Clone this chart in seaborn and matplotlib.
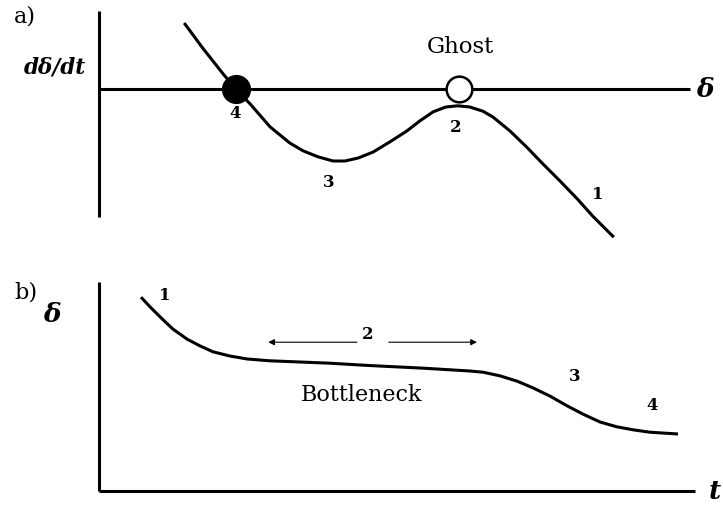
import matplotlib
matplotlib.use("Agg")
import matplotlib.pyplot as plt
import seaborn as sns
import pandas as pd

sns.set_theme(style="white")
plt.rcParams["font.family"] = ["DejaVu Serif"]
plt.rcParams["text.color"] = "black"

# Panel a: phase portrait, rate of change versus delta
phase_delta = [1.42, 1.73, 2.07, 2.28, 2.52, 2.85, 3.18, 3.40, 3.65, 3.90, 4.10, 4.32,
               4.57, 4.85, 5.13, 5.35, 5.57, 5.78, 5.98, 6.18, 6.40, 6.57, 6.85, 7.13,
               7.40, 7.68, 7.97, 8.23, 8.58]
phase_rate = [1.10, 0.68, 0.25, 0.00, -0.25, -0.63, -0.90, -1.03, -1.13, -1.20, -1.20, -1.15,
              -1.05, -0.88, -0.70, -0.53, -0.38, -0.30, -0.28, -0.30, -0.37, -0.47, -0.70, -0.97,
              -1.25, -1.53, -1.83, -2.12, -2.47]
stable_point = (2.28, 0.0)
ghost_point = (6.0, 0.0)
phase_labels = ["4", "3", "2", "1"]
phase_label_pos = [(2.27, -0.40), (3.83, -1.55), (5.95, -0.63), (8.32, -1.75)]

# Panel b: time course of delta
time = [0.70, 0.85, 1.02, 1.23, 1.47, 1.68, 1.90, 2.18, 2.47, 2.85, 3.35, 3.85, 4.35,
        4.73, 5.35, 5.85, 6.18, 6.40, 6.68, 6.97, 7.23, 7.52, 7.80, 8.07, 8.35, 8.63,
        8.90, 9.18, 9.65]
delta = [3.23, 3.07, 2.90, 2.70, 2.53, 2.42, 2.32, 2.25, 2.20, 2.17, 2.15, 2.13, 2.10,
         2.08, 2.05, 2.02, 2.00, 1.98, 1.92, 1.83, 1.72, 1.58, 1.42, 1.28, 1.15, 1.07,
         1.02, 0.98, 0.95]
time_labels = ["1", "2", "3", "4"]
time_label_pos = [(1.10, 3.27), (4.47, 2.62), (7.93, 1.93), (9.22, 1.45)]

W, H = 723, 506
fig = plt.figure(figsize=(W / 100, H / 100), dpi=100)
fig.patch.set_facecolor("white")

LW = 2.2
INK = "black"
num_font = dict(fontsize=12, fontweight="bold", ha="center", va="center", color=INK)
sym_font = dict(fontweight="bold", fontstyle="italic", ha="center", va="center", color=INK)
line_kw = dict(color=INK, linewidth=LW, solid_capstyle="butt", solid_joinstyle="round")

# ---------- panel a ----------
ax_a = fig.add_axes([99 / W, (H - 250) / H, (W - 99) / W, 250 / H])
ax_a.set_xlim(0, (W - 99) / 60)
ax_a.set_ylim((90 - 250) / 60, 90 / 60)
phase_df = pd.DataFrame({"delta": phase_delta, "rate": phase_rate})
sns.lineplot(data=phase_df, x="delta", y="rate", sort=False, ax=ax_a, **line_kw)
ax_a.plot(*stable_point, marker="o", markersize=20, color=INK, zorder=5)
ax_a.plot(*ghost_point, marker="o", markersize=18.5, markerfacecolor="white",
          markeredgecolor=INK, markeredgewidth=1.8, zorder=5)
for lab, (x, y) in zip(phase_labels, phase_label_pos):
    ax_a.text(x, y, lab, **num_font)
ax_a.text(6.03, 0.72, "Ghost", fontsize=16.5, ha="center", va="center", color=INK)
ax_a.text(10.1, 0, "δ", fontsize=19, **sym_font)
ax_a.text(-0.73, 0.37, "dδ/dt", fontsize=15.5, **sym_font)

# ---------- panel b ----------
ax_b = fig.add_axes([99 / W, 0, (W - 99) / W, 256 / H])
ax_b.set_xlim(0, (W - 99) / 60)
ax_b.set_ylim((492 - 506) / 60, (492 - 250) / 60)
time_df = pd.DataFrame({"t": time, "delta": delta})
sns.lineplot(data=time_df, x="t", y="delta", sort=False, ax=ax_b, **line_kw)
for lab, (x, y) in zip(time_labels, time_label_pos):
    ax_b.text(x, y, lab, **num_font)
arrow_kw = dict(arrowstyle="-|>", lw=0.8, color=INK, mutation_scale=9,
                shrinkA=0, shrinkB=0)
ax_b.annotate("", xy=(2.82, 2.48), xytext=(4.30, 2.48), arrowprops=arrow_kw)
ax_b.annotate("", xy=(6.30, 2.48), xytext=(4.83, 2.48), arrowprops=arrow_kw)
ax_b.text(4.38, 1.62, "Bottleneck", fontsize=16, ha="center", va="center", color=INK)
ax_b.text(10.27, 0, "t", fontsize=19, **sym_font)
ax_b.text(-0.78, 2.95, "δ", fontsize=19, **sym_font)

# axis lines drawn as bounded spines
for ax, (vlo, vhi), hmax in [(ax_a, ((90 - 218) / 60, (90 - 12) / 60), (690 - 99) / 60),
                             (ax_b, (0, (492 - 283) / 60), (695 - 99) / 60)]:
    ax.set_xticks([])
    ax.set_yticks([])
    ax.set_xlabel("")
    ax.set_ylabel("")
    ax.spines["top"].set_visible(False)
    ax.spines["right"].set_visible(False)
    ax.spines["left"].set_position(("data", 0))
    ax.spines["bottom"].set_position(("data", 0))
    ax.spines["left"].set_bounds(vlo, vhi)
    ax.spines["bottom"].set_bounds(0, hmax)
    for s in ("left", "bottom"):
        ax.spines[s].set_linewidth(LW)
        ax.spines[s].set_color(INK)
        ax.spines[s].set_capstyle("butt")
    ax.patch.set_visible(False)

fig.text(14 / W, 1 - 16 / H, "a)", fontsize=16, ha="left", va="center", color=INK)
fig.text(14 / W, 1 - 292 / H, "b)", fontsize=16, ha="left", va="center", color=INK)

fig.savefig("out.png", dpi=100, facecolor="white")
